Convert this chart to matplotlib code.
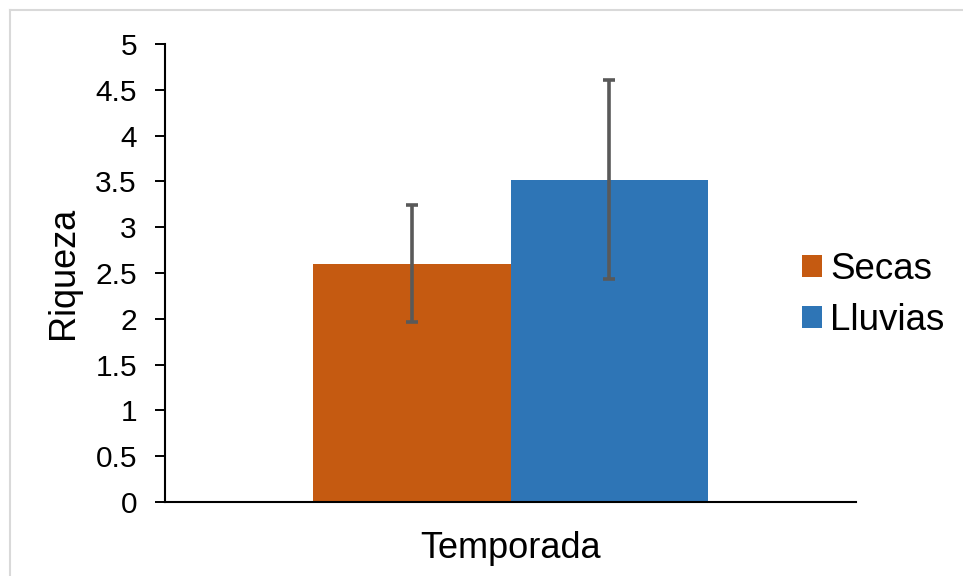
import numpy as np
import matplotlib
matplotlib.use('Agg')
import matplotlib.pyplot as plt
from matplotlib.lines import Line2D

plt.rcParams['font.family'] = ['Liberation Sans', 'DejaVu Sans']

# data
series = ['Secas', 'Lluvias']
means = [2.60, 3.52]
errors = [0.64, 1.09]
colors = ['#C55A11', '#2E75B6']
yticks = [0, 0.5, 1, 1.5, 2, 2.5, 3, 3.5, 4, 4.5, 5]
ytick_labels = ['0', '0.5', '1', '1.5', '2', '2.5', '3', '3.5', '4', '4.5', '5']

fig = plt.figure(figsize=(9.63, 5.76), dpi=100)
ax = fig.add_axes([165 / 963, 74 / 576, 691 / 963, 458 / 576])

bar_w = 0.286
x = np.array([-0.5, 0.5]) * bar_w
for xi, m, e, c, name in zip(x, means, errors, colors, series):
    ax.bar(xi, m, width=bar_w, color=c, label=name, zorder=2)
    ax.errorbar(xi, m, yerr=e, fmt='none', ecolor='#595959',
                elinewidth=2.6, capsize=4.5, capthick=2.6, zorder=3)

ax.set_xlim(-0.5, 0.5)
ax.set_ylim(0, 5)
ax.set_yticks(yticks)
ax.set_yticklabels(ytick_labels)
ax.set_xticks([])
ax.tick_params(axis='y', length=7.2, width=1.4, pad=13, labelsize=21.5)

for side in ['top', 'right']:
    ax.spines[side].set_visible(False)
for side in ['left', 'bottom']:
    ax.spines[side].set_linewidth(1.5)
    ax.spines[side].set_color('black')

ax.set_ylabel('Riqueza', fontsize=26)
ax.yaxis.label.set_va('center')
ax.yaxis.set_label_coords((64 - 165) / 691, 0.5)
ax.set_xlabel('Temporada', fontsize=26)
ax.xaxis.label.set_va('center')
ax.xaxis.set_label_coords(0.5, (502 - 549) / 458)

ax.legend(loc='center left', bbox_to_anchor=(802 / 963, 1 - 295 / 576),
          bbox_transform=fig.transFigure, frameon=False, fontsize=26.5,
          handlelength=0.55, handleheight=0.55, handletextpad=0.22,
          labelspacing=0.42, borderpad=0, borderaxespad=0)

# light outer frame like the Excel chart area
fig.add_artist(Line2D([10 / 963, 1], [1 - 10 / 576, 1 - 10 / 576],
                      transform=fig.transFigure, color='#d9d9d9', lw=1.5))
fig.add_artist(Line2D([10 / 963, 10 / 963], [0, 1 - 10 / 576],
                      transform=fig.transFigure, color='#d9d9d9', lw=1.5))

fig.savefig('out.png', dpi=100)
